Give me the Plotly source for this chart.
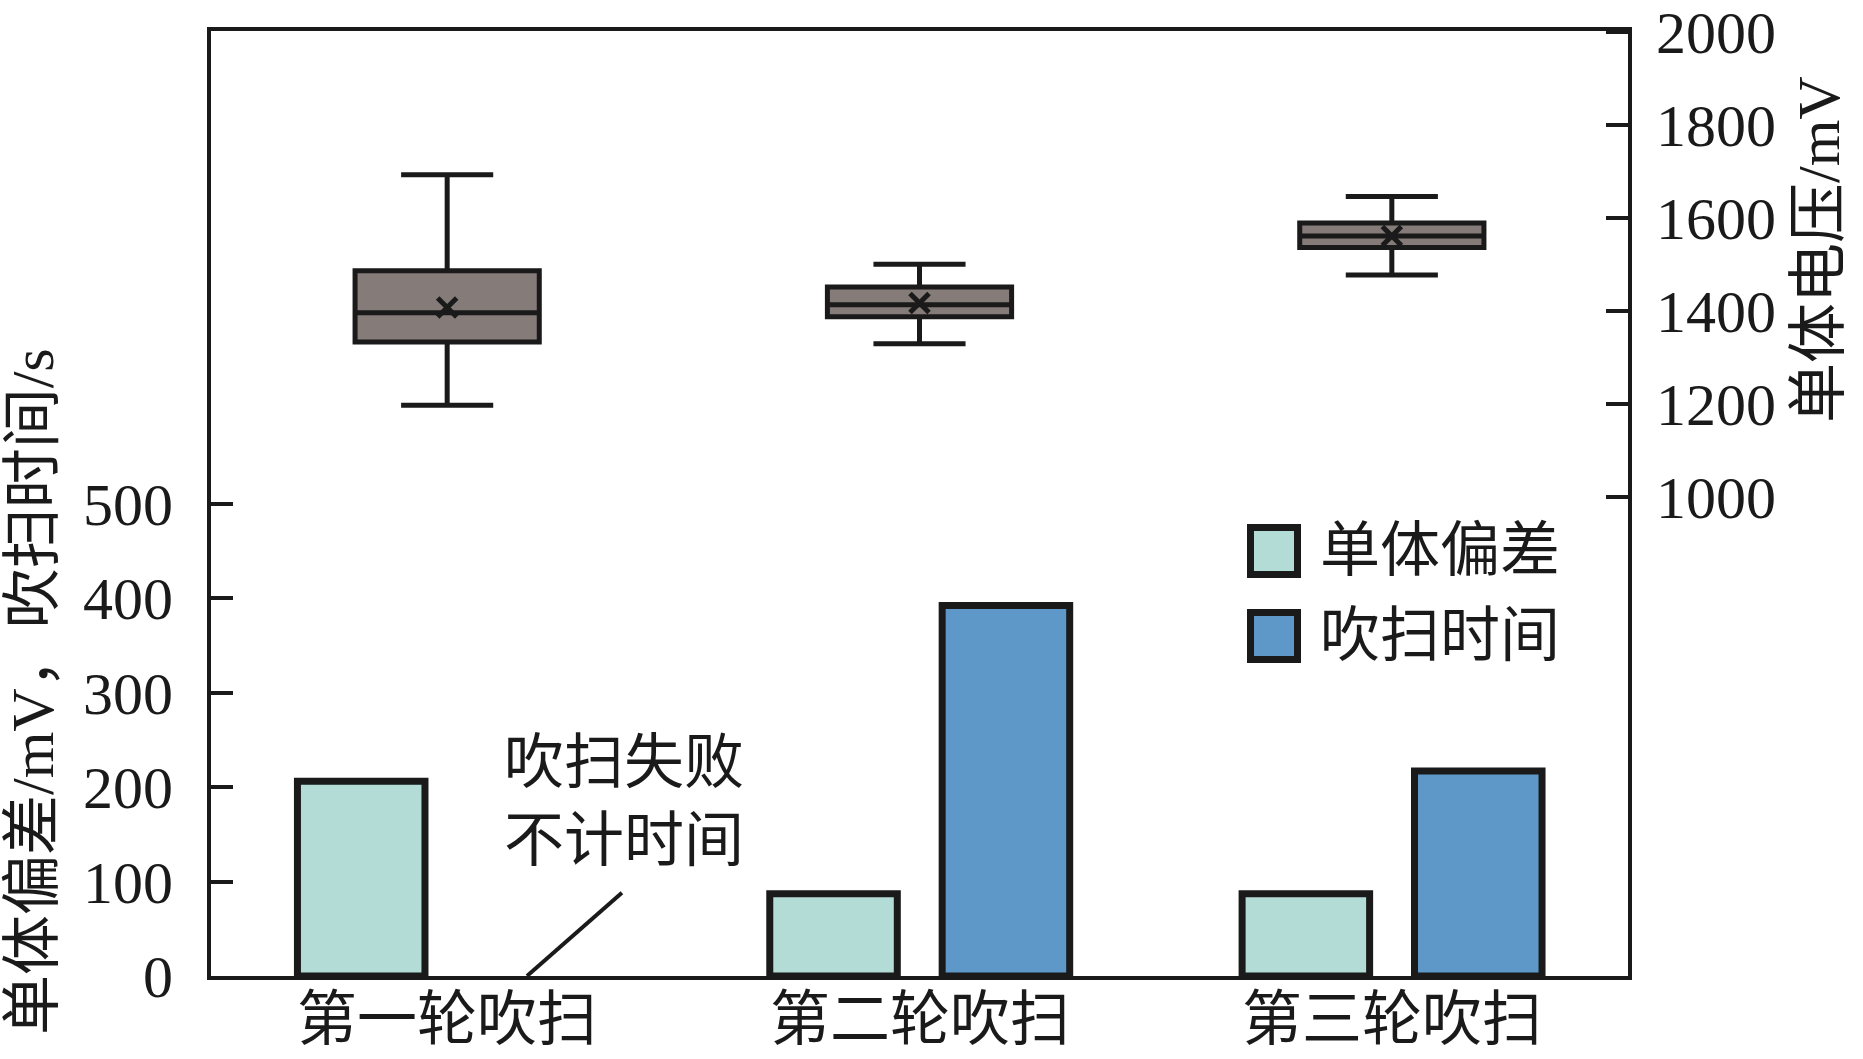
import plotly.graph_objects as go

# ---- data ----
categories = ["第一轮吹扫", "第二轮吹扫", "第三轮吹扫"]
deviation_mv = [206, 87, 87]            # 单体偏差 /mV (left axis)
purge_time_s = [None, 392, 217]         # 吹扫时间 /s (left axis), first round failed
v_upper = [1694, 1501, 1647]            # 单体电压 box stats /mV (right axis)
v_q3 = [1487, 1452, 1590]
v_median = [1397, 1414, 1562]
v_q1 = [1334, 1388, 1537]
v_lower = [1198, 1330, 1478]
v_mean = [1408, 1418, 1562]
left_ticks = [0, 100, 200, 300, 400, 500]
right_ticks = [1000, 1200, 1400, 1600, 1800, 2000]

FONT = "Liberation Serif, Noto Sans CJK SC"
INK = "#1a1a1a"
TEAL = "#b3dcd7"
BLUE = "#5d98c8"
BOXFILL = "#857b78"

fig = go.Figure()

fig.add_trace(go.Bar(
    x=categories, y=deviation_mv, name="单体偏差",
    width=0.27, offset=-0.317,
    marker=dict(color=TEAL, line=dict(color=INK, width=7)),
    showlegend=False,
))
fig.add_trace(go.Bar(
    x=categories, y=purge_time_s, name="吹扫时间",
    width=0.27, offset=0.048,
    marker=dict(color=BLUE, line=dict(color=INK, width=7)),
    showlegend=False,
))

fig.add_trace(go.Box(
    x=categories, q1=v_q1, median=v_median, q3=v_q3,
    lowerfence=v_lower, upperfence=v_upper,
    yaxis="y2", width=0.39, whiskerwidth=0.5,
    fillcolor=BOXFILL, line=dict(color=INK, width=5),
    boxpoints=False, showlegend=False, name="单体电压",
))
fig.add_trace(go.Scatter(
    x=categories, y=v_mean, yaxis="y2", mode="markers",
    marker=dict(symbol="x-thin", size=19, line=dict(color=INK, width=5), color=INK),
    showlegend=False, name="均值",
))

# category labels under the x axis (placed at the category positions)
for cat in categories:
    fig.add_annotation(xref="x", yref="paper", x=cat, y=-0.0835, text=cat,
                       showarrow=False, xanchor="center", yanchor="bottom",
                       font=dict(family=FONT, size=60, color=INK))

# annotation line + text for failed first round
fig.add_shape(type="line", xref="x", yref="y", x0=0.169, y0=0, x1=0.370, y1=88,
              line=dict(color=INK, width=4))
fig.add_annotation(xref="x", yref="y", x=0.374, y=184, text="吹扫失败<br>不计时间",
                   showarrow=False, font=dict(family=FONT, size=60, color=INK),
                   xanchor="center", yanchor="middle")

# manual legend
W, H = 1417.0, 945.0
def px_x(p):
    return (p - 211) / W
def px_y(p):
    return (976 - p) / H
legend_items = [("单体偏差", TEAL, 551), ("吹扫时间", BLUE, 636)]
for label, col, cy in legend_items:
    fig.add_shape(type="rect", xref="paper", yref="paper",
                  x0=px_x(1250.5), x1=px_x(1297.5), y0=px_y(cy + 23.5), y1=px_y(cy - 23.5),
                  fillcolor=col, line=dict(color=INK, width=7))
    fig.add_annotation(xref="paper", yref="paper", x=px_x(1318), y=px_y(cy),
                       text=label, showarrow=False, xanchor="left", yanchor="middle",
                       font=dict(family=FONT, size=60, color=INK))

# axis titles
fig.add_annotation(xref="paper", yref="paper", x=px_x(33), y=px_y(692),
                   text="单体偏差/mV，吹扫时间/s", textangle=-90, showarrow=False,
                   xanchor="center", yanchor="middle",
                   font=dict(family=FONT, size=60, color=INK))
fig.add_annotation(xref="paper", yref="paper", x=px_x(1819), y=px_y(250),
                   text="单体电压/mV", textangle=-90, showarrow=False,
                   xanchor="center", yanchor="middle",
                   font=dict(family=FONT, size=60, color=INK))

fig.update_layout(
    width=1863, height=1059,
    margin=dict(l=211, r=235, t=31, b=83),
    paper_bgcolor="white", plot_bgcolor="white",
    barmode="overlay",
    font=dict(family=FONT, size=60, color=INK),
    xaxis=dict(
        type="category", categoryarray=categories, range=[-0.5, 2.5], automargin=False,
        showline=True, linecolor=INK, linewidth=4, mirror=True,
        ticks="", showgrid=False, zeroline=False, showticklabels=False,
    ),
    yaxis=dict(
        range=[0, 1000], tickvals=left_ticks, automargin=False,
        showline=True, linecolor=INK, linewidth=4, mirror=True,
        ticks="inside", ticklen=22, tickwidth=4, tickcolor=INK,
        showgrid=False, zeroline=False,
        tickfont=dict(family=FONT, size=60, color=INK),
        ticklabelstandoff=22,
    ),
    yaxis2=dict(
        overlaying="y", side="right", automargin=False,
        range=[-30, 2003], tickvals=right_ticks,
        showline=True, linecolor=INK, linewidth=4,
        ticks="inside", ticklen=22, tickwidth=4, tickcolor=INK,
        showgrid=False, zeroline=False,
        tickfont=dict(family=FONT, size=60, color=INK),
        ticklabelstandoff=12,
    ),
)

fig.write_html(
    "out.html",
    config={"displayModeBar": False},
    post_script="document.body.style.margin='0';document.body.style.overflow='hidden';",
)
